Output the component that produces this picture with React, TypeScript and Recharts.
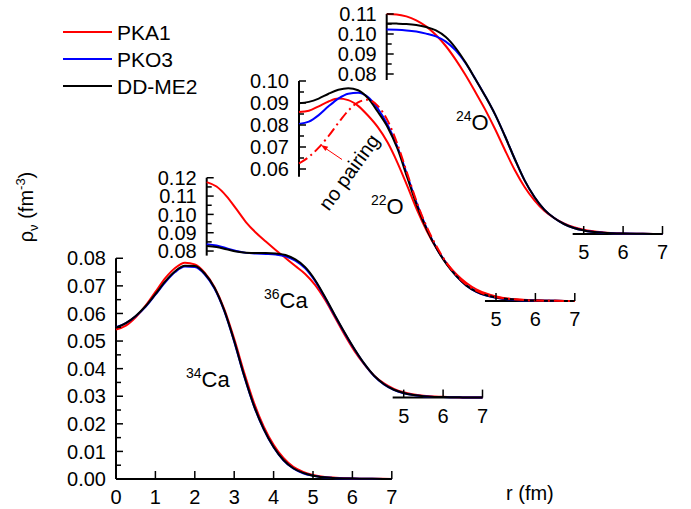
import React from "react";
import { LineChart, Line, XAxis, YAxis, ReferenceLine, Legend } from "recharts";

const W = 691;
const H = 509;
const FONT = "'Liberation Sans', Arial, Helvetica, sans-serif";
const PX_PER_FM = 39.4;
const Y_AXIS_W = 40;
const X_AXIS_H = 20;

// radial grid r (fm)
const radius = [0, 0.25, 0.5, 0.75, 1, 1.25, 1.5, 1.75, 2, 2.25, 2.5, 2.75, 3, 3.25, 3.5, 3.75, 4, 4.25, 4.5, 4.75, 5, 5.5, 6, 6.5, 7];

// 34Ca neutron density
const ca34Pka1 = [0.0542, 0.0556, 0.0586, 0.0628, 0.0678, 0.0728, 0.0765, 0.0784, 0.0778, 0.0748, 0.0695, 0.0615, 0.0508, 0.0387, 0.0277, 0.019, 0.0124, 0.0076, 0.0044, 0.0026, 0.0015, 0.0005, 0.0002, 0.0001, 0];
const ca34Pko3 = [0.055, 0.0565, 0.059, 0.0624, 0.0668, 0.0713, 0.075, 0.077, 0.0768, 0.0742, 0.069, 0.0608, 0.0498, 0.0374, 0.0265, 0.018, 0.0115, 0.0068, 0.0038, 0.0021, 0.0012, 0.0004, 0.00015, 0.00005, 0];
const ca34Ddme2 = [0.0548, 0.0565, 0.0591, 0.0626, 0.067, 0.0716, 0.0753, 0.0773, 0.0772, 0.0745, 0.0693, 0.061, 0.05, 0.0376, 0.0266, 0.0181, 0.0116, 0.0069, 0.0039, 0.0022, 0.0012, 0.0004, 0.00015, 0.00005, 0];

// 36Ca
const ca36Pka1 = [0.1176, 0.1152, 0.11, 0.103, 0.0957, 0.09, 0.0852, 0.0806, 0.0762, 0.0718, 0.0675, 0.0615, 0.0535, 0.044, 0.0343, 0.0255, 0.0181, 0.012, 0.0078, 0.0048, 0.0029, 0.001, 0.0004, 0.0001, 0];
const ca36Pko3 = [0.0837, 0.083, 0.0815, 0.08, 0.079, 0.0786, 0.0784, 0.0781, 0.0772, 0.0748, 0.0706, 0.0637, 0.0546, 0.0448, 0.0353, 0.0264, 0.0184, 0.0118, 0.0072, 0.0042, 0.0024, 0.0008, 0.0003, 0.0001, 0];
const ca36Ddme2 = [0.0828, 0.0822, 0.081, 0.0798, 0.0791, 0.0789, 0.0789, 0.0787, 0.0778, 0.0754, 0.0712, 0.0642, 0.055, 0.0451, 0.0355, 0.0265, 0.0185, 0.0119, 0.0073, 0.0043, 0.0025, 0.0008, 0.0003, 0.0001, 0];

// 22O
const o22Pka1 = [0.0859, 0.0865, 0.0885, 0.0907, 0.092, 0.0913, 0.0887, 0.0843, 0.079, 0.072, 0.0628, 0.0522, 0.0412, 0.0316, 0.0236, 0.0171, 0.0121, 0.0082, 0.0053, 0.0034, 0.0021, 0.0008, 0.0003, 0.0001, 0];
const o22Pko3 = [0.0805, 0.0815, 0.0845, 0.0885, 0.092, 0.0942, 0.0947, 0.0927, 0.0875, 0.08, 0.07, 0.057, 0.0438, 0.0327, 0.0238, 0.0168, 0.0112, 0.007, 0.0042, 0.0025, 0.0015, 0.0005, 0.0002, 0.0001, 0];
const o22Ddme2 = [0.0899, 0.0905, 0.092, 0.0942, 0.096, 0.0967, 0.0958, 0.0922, 0.086, 0.079, 0.0692, 0.056, 0.043, 0.0322, 0.0236, 0.0166, 0.0112, 0.007, 0.0043, 0.0026, 0.0016, 0.0006, 0.0002, 0.0001, 0];
const o22NoPairing = [0.0625, 0.0655, 0.0697, 0.075, 0.081, 0.0865, 0.0903, 0.0915, 0.0887, 0.082, 0.0712, 0.0578, 0.0444, 0.0334, 0.0245, 0.0172, 0.0116, 0.0075, 0.0047, 0.0029, 0.0018, 0.0007, 0.0002, 0.0001, 0];

// 24O
const o24Pka1 = [0.11, 0.1098, 0.1088, 0.1068, 0.1038, 0.0995, 0.094, 0.0872, 0.0795, 0.071, 0.0622, 0.0525, 0.042, 0.032, 0.0235, 0.0168, 0.0116, 0.008, 0.0053, 0.0034, 0.0021, 0.0008, 0.0003, 0.0001, 0];
const o24Pko3 = [0.1022, 0.1021, 0.1018, 0.1012, 0.1002, 0.0988, 0.0962, 0.0918, 0.0855, 0.0775, 0.069, 0.0598, 0.049, 0.0375, 0.0268, 0.0185, 0.0122, 0.008, 0.005, 0.003, 0.0018, 0.0006, 0.0002, 0.0001, 0];
const o24Ddme2 = [0.1053, 0.1052, 0.105, 0.1045, 0.1035, 0.1018, 0.0985, 0.093, 0.0858, 0.0775, 0.069, 0.0598, 0.049, 0.0375, 0.0268, 0.0185, 0.0122, 0.008, 0.005, 0.003, 0.0018, 0.0006, 0.0002, 0.0001, 0];

// ticks
const mainXTicks = [0, 1, 2, 3, 4, 5, 6, 7];
const insetXTicks = [5, 6, 7];
const mainYTicks = [0, 0.005, 0.01, 0.015, 0.02, 0.025, 0.03, 0.035, 0.04, 0.045, 0.05, 0.055, 0.06, 0.065, 0.07, 0.075, 0.08];
const ca36YTicks = [0.08, 0.085, 0.09, 0.095, 0.1, 0.105, 0.11, 0.115, 0.12];
const o22YTicks = [0.06, 0.065, 0.07, 0.075, 0.08, 0.085, 0.09, 0.095, 0.1];
const o24YTicks = [0.08, 0.085, 0.09, 0.095, 0.1, 0.105, 0.11];

const legendOrder = ["PKA1", "PKO3", "DD-ME2"];

const toRows = (pka1: number[], pko3: number[], ddme2: number[], nopair?: number[]) =>
  radius.map((r, i) => ({
    r,
    pka1: pka1[i],
    pko3: pko3[i],
    ddme2: ddme2[i],
    nopair: nopair ? nopair[i] : undefined
  }));

const makeYTick = (x0: number) => (props: any) => {
  const { y, payload } = props;
  const v = payload.value as number;
  const major = Math.abs(v * 100 - Math.round(v * 100)) < 1e-6;
  return (
    <g>
      <line x1={x0} x2={x0 + (major ? 7 : 5)} y1={y} y2={y} stroke="#000" strokeWidth={1.5} />
      {major && (
        <text x={x0 - 10} y={y} dy="0.36em" textAnchor="end" fontSize={20} fontFamily={FONT} fill="#000">
          {v.toFixed(2)}
        </text>
      )}
    </g>
  );
};

const makeXTick = (axisY: number) => (props: any) => {
  const { x, payload } = props;
  return (
    <g>
      <line x1={x} x2={x} y1={axisY} y2={axisY - 8} stroke="#000" strokeWidth={1.5} />
      <text x={x} y={axisY + 25} textAnchor="middle" fontSize={20} fontFamily={FONT} fill="#000">
        {payload.value}
      </text>
    </g>
  );
};

const renderLegend = (props: any) => {
  const items = [...(props.payload || [])].sort(
    (a: any, b: any) => legendOrder.indexOf(a.value) - legendOrder.indexOf(b.value)
  );
  return (
    <svg width={220} height={100}>
      {items.map((it: any, i: number) => (
        <g key={it.value}>
          <line x1={63} x2={112} y1={32 + 27 * i} y2={32 + 27 * i} stroke={it.color} strokeWidth={2} />
          <text x={117} y={32 + 27 * i} dy="0.36em" fontSize={21} fontFamily={FONT} fill="#000">
            {it.value}
          </text>
        </g>
      ))}
    </svg>
  );
};

type PanelProps = {
  rows: any[];
  x0: number; // pixel of r = 0
  y0: number; // pixel of rho = 0
  pxPerUnit: number;
  yTop: number;
  yTicks: number[];
  yAxisFrom: number;
  xTicks: number[];
  xAxisFrom: number;
  main?: boolean;
  noPairing?: boolean;
};

const Panel = ({ rows, x0, y0, pxPerUnit, yTop, yTicks, yAxisFrom, xTicks, xAxisFrom, main, noPairing }: PanelProps) => {
  const margin = {
    left: x0 - Y_AXIS_W,
    right: W - (x0 + 7 * PX_PER_FM),
    top: y0 - yTop * pxPerUnit,
    bottom: H - y0 - X_AXIS_H
  };
  return (
    <div style={{ position: "absolute", left: 0, top: 0 }}>
      <LineChart width={W} height={H} data={rows} margin={margin}>
        <XAxis
          dataKey="r"
          type="number"
          domain={[0, 7]}
          ticks={xTicks}
          interval={0}
          height={X_AXIS_H}
          axisLine={false}
          tickLine={false}
          tick={makeXTick(y0)}
        />
        <YAxis
          type="number"
          domain={[0, yTop]}
          ticks={yTicks}
          interval={0}
          width={Y_AXIS_W}
          axisLine={false}
          tickLine={false}
          tick={makeYTick(x0)}
        />
        <ReferenceLine
          segment={[{ x: 0, y: yAxisFrom }, { x: 0, y: yTop }]}
          stroke="#000"
          strokeWidth={2}
          ifOverflow="visible"
        />
        <ReferenceLine
          segment={[{ x: xAxisFrom, y: 0 }, { x: 7, y: 0 }]}
          stroke="#000"
          strokeWidth={2}
          ifOverflow="visible"
        />
        <Line type="monotone" dataKey="pka1" name="PKA1" stroke="#ff0000" strokeWidth={2} dot={false} isAnimationActive={false} />
        <Line type="monotone" dataKey="pko3" name="PKO3" stroke="#0000ff" strokeWidth={2} dot={false} isAnimationActive={false} />
        <Line type="monotone" dataKey="ddme2" name="DD-ME2" stroke="#000000" strokeWidth={2} dot={false} isAnimationActive={false} />
        {noPairing && (
          <Line
            type="monotone"
            dataKey="nopair"
            name="no pairing"
            stroke="#ff0000"
            strokeWidth={2}
            strokeDasharray="10 4 2 4"
            dot={false}
            legendType="none"
            isAnimationActive={false}
          />
        )}
        {main && (
          <Legend
            layout="vertical"
            align="center"
            verticalAlign="middle"
            wrapperStyle={{ left: 0, top: 0, width: 220, height: 100 }}
            content={renderLegend}
          />
        )}
      </LineChart>
    </div>
  );
};

const Annotations = () => (
  <svg width={W} height={H} style={{ position: "absolute", left: 0, top: 0 }} fontFamily={FONT}>
    <text x={186} y={387} fontSize={22} fill="#000">
      <tspan fontSize={14} dy={-9}>34</tspan>
      <tspan dy={9}>Ca</tspan>
    </text>
    <text x={264} y={308} fontSize={22} fill="#000">
      <tspan fontSize={14} dy={-9}>36</tspan>
      <tspan dy={9}>Ca</tspan>
    </text>
    <text x={371} y={214} fontSize={22} fill="#000">
      <tspan fontSize={14} dy={-9}>22</tspan>
      <tspan dy={9}>O</tspan>
    </text>
    <text x={456} y={130} fontSize={22} fill="#000">
      <tspan fontSize={14} dy={-9}>24</tspan>
      <tspan dy={9}>O</tspan>
    </text>
    <text transform="translate(33,207) rotate(-90)" textAnchor="middle" fontSize={20} fill="#000">
      ρ<tspan fontSize={13} dy={5}>ν</tspan>
      <tspan dy={-5}> (fm</tspan>
      <tspan fontSize={13} dy={-8}>-3</tspan>
      <tspan dy={8}>)</tspan>
    </text>
    <text x={506} y={500} fontSize={20} fill="#000">r (fm)</text>
    <text transform="translate(349,172) rotate(-54)" textAnchor="middle" dy="0.35em" fontSize={20} fill="#000">
      no pairing
    </text>
    <line x1={342} y1={159.5} x2={325} y2={148} stroke="#ff0000" strokeWidth={1} />
    <polygon points="321,145 328.2,146.8 325.4,151" fill="#ff0000" />
  </svg>
);

export default function App() {
  return (
    <div style={{ position: "absolute", left: 0, top: 0, width: W, height: H, background: "#fff", fontFamily: FONT }}>
      <Panel
        rows={toRows(ca34Pka1, ca34Pko3, ca34Ddme2)}
        x0={116}
        y0={479}
        pxPerUnit={2759}
        yTop={0.08}
        yTicks={mainYTicks}
        yAxisFrom={0}
        xTicks={mainXTicks}
        xAxisFrom={0}
        main
      />
      <Panel
        rows={toRows(ca36Pka1, ca36Pko3, ca36Ddme2)}
        x0={206.7}
        y0={397.6}
        pxPerUnit={1832}
        yTop={0.12}
        yTicks={ca36YTicks}
        yAxisFrom={0.0775}
        xTicks={insetXTicks}
        xAxisFrom={4.72}
      />
      <Panel
        rows={toRows(o22Pka1, o22Pko3, o22Ddme2, o22NoPairing)}
        x0={299}
        y0={301}
        pxPerUnit={2200}
        yTop={0.1}
        yTicks={o22YTicks}
        yAxisFrom={0.0565}
        xTicks={insetXTicks}
        xAxisFrom={4.72}
        noPairing
      />
      <Panel
        rows={toRows(o24Pka1, o24Pko3, o24Ddme2)}
        x0={386.7}
        y0={234}
        pxPerUnit={2000}
        yTop={0.11}
        yTicks={o24YTicks}
        yAxisFrom={0.077}
        xTicks={insetXTicks}
        xAxisFrom={4.72}
      />
      <Annotations />
    </div>
  );
}
